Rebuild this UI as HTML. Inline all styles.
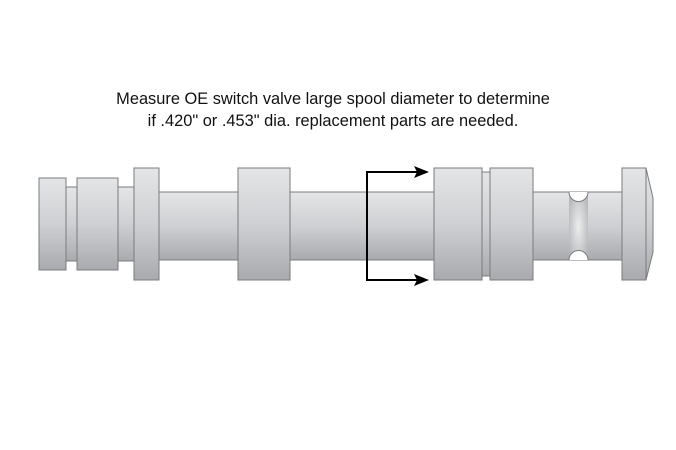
<!DOCTYPE html>
<html><head><meta charset="utf-8"><style>
html,body{margin:0;padding:0;background:#fff;}
.t{position:absolute;left:0;width:666px;text-align:center;font-family:"Liberation Sans",sans-serif;font-size:16.4px;color:#111;line-height:22px;}
</style></head><body>
<div style="position:relative;width:676px;height:450px;overflow:hidden">
<div class="t" style="top:88px">Measure OE switch valve large spool diameter to determine<br>if .420" or .453" dia. replacement parts are needed.</div>
<svg width="676" height="450" style="position:absolute;left:0;top:0">
<defs>
<linearGradient id="g" x1="0" y1="0" x2="0" y2="1">
<stop offset="0" stop-color="#e4e5e7"/><stop offset="0.5" stop-color="#cfd0d3"/><stop offset="1" stop-color="#a8aaad"/>
</linearGradient>
<radialGradient id="gr" cx="0.5" cy="0.5" r="0.6"><stop offset="0" stop-color="#eceded"/><stop offset="1" stop-color="#b5b7ba"/></radialGradient>
</defs>
<g stroke="#7a7b7d" stroke-width="1" fill="url(#g)">
<rect x="66" y="187" width="11" height="74"/>
<rect x="118" y="187" width="16" height="74"/>
<rect x="159" y="192" width="79" height="68"/>
<rect x="290" y="192" width="144" height="68"/>
<rect x="482" y="172" width="8" height="104"/>
<rect x="533" y="192" width="89" height="68"/>
<rect x="569" y="192" width="19" height="68" fill="url(#gr)" stroke="none"/>
<path d="M569,192 A9.5,9.5 0 0 0 588,192" fill="#fff"/>
<path d="M569,260 A9.5,9.5 0 0 1 588,260" fill="#fff"/>
<rect x="39" y="178" width="27" height="92"/>
<rect x="77" y="178" width="41" height="92"/>
<rect x="134" y="168" width="25" height="112"/>
<rect x="238" y="168" width="52" height="112"/>
<rect x="434" y="168" width="48" height="112"/>
<rect x="490" y="168" width="43" height="112"/>
<path d="M646,168 L653,198 L653,252 L646,280 Z"/>
<rect x="622" y="168" width="24" height="112"/>
</g>
<g stroke="#000" stroke-width="2" fill="none">
<path d="M420,172 L367,172 L367,280 L420,280"/>
</g>
<path d="M429,172 L414,166 L417,172 L414,178 Z" fill="#000"/>
<path d="M429,280 L414,274 L417,280 L414,286 Z" fill="#000"/>
</svg>
</div>
</body></html>
